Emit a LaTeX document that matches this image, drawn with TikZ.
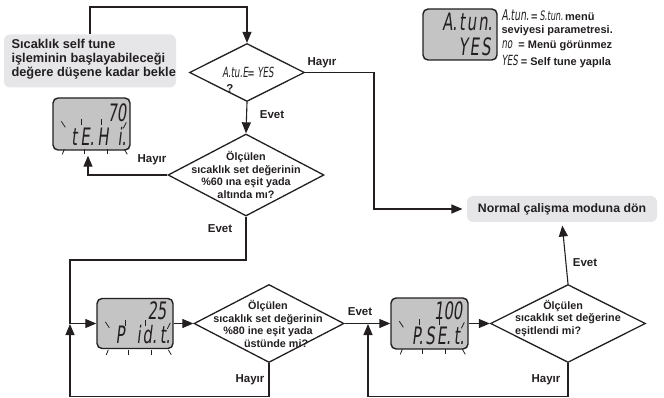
\documentclass[tikz,border=0pt]{standalone}
\usepackage{fontspec}
\setmainfont{Liberation Sans}
\newfontfamily\seg{DejaVu Sans}[FakeSlant=0.12,FakeStretch=0.62]
\usetikzlibrary{shapes.geometric,arrows.meta}
\definecolor{ink}{HTML}{231F20}
\definecolor{boxgray}{HTML}{E6E6E8}
\definecolor{lcdgray}{HTML}{C4C4C4}
\newcommand\lcdblink[1]{%
  \draw[blinkline] ([shift={(9,24)}]#1.north west) -- ++(4,6);
  \draw[blinkline] ([shift={(29,22)}]#1.north west) -- ++(0,6);
  \draw[blinkline] ([shift={(49,22)}]#1.north west) -- ++(0,6);
  \draw[blinkline] ([shift={(74,25)}]#1.north west) -- ++(-3,6);
  \draw[blinkline] ([shift={(12,52)}]#1.north west) -- ++(-2,5);
  \draw[blinkline] ([shift={(32,52)}]#1.north west) -- ++(0,5);
  \draw[blinkline] ([shift={(55,52)}]#1.north west) -- ++(0,5);
  \draw[blinkline] ([shift={(72,52)}]#1.north west) -- ++(3,5);
}
\newcommand\gap[1]{\hspace{#1pt}}
\begin{document}
\begin{tikzpicture}[x=1pt,y=-1pt,color=ink,line width=1.1pt,
  arr/.style={-{Triangle[length=11pt,width=9pt]}},
  decision/.style={draw,diamond,inner sep=0pt,line width=1.3pt},
  infobox/.style={fill=boxgray,rounded corners=6pt,inner sep=0pt},
  lcd/.style={draw,fill=lcdgray,rounded corners=5pt,line width=1.4pt,inner sep=0pt},
  blinkline/.style={line width=0.8pt},
  lbl/.style={font=\fontsize{11.5}{13}\selectfont\bfseries,inner sep=0pt},
  dtext/.style={font=\fontsize{10.8}{12.7}\selectfont\bfseries,align=center,inner sep=0pt},
  segbig/.style={font=\seg\fontsize{24}{24}\selectfont,inner sep=0pt},
  legend/.style={font=\fontsize{11}{12}\selectfont\bfseries,inner sep=0pt,anchor=west}]
\useasboundingbox (0,0) rectangle (664,398);

% info boxes
\node[infobox,minimum width=172pt,minimum height=53pt] (topbox) at (90,61) {};
\node[font=\fontsize{12.8}{14}\selectfont\bfseries,align=left,anchor=west,inner sep=0pt] (topt) at (11,59)
  {Sıcaklık self tune\\işleminin başlayabileceği\\değere düşene kadar bekle};
\node[infobox,minimum width=190pt,minimum height=26pt,font=\fontsize{12.3}{13}\selectfont\bfseries] (normal) at (562,209)
  {Normal çalişma moduna dön};

% decisions
\node[decision,minimum width=115pt,minimum height=58pt] (d1) at (247,72.5) {};
\node[inner sep=0pt] (d1t) at (248,72) {{\seg\fontsize{14}{14}\selectfont A.tu.E}{\bfseries\fontsize{11}{11}\selectfont=}\gap{3}{\seg\fontsize{14}{14}\selectfont YES}};
\node[lbl] (d1q) at (230,88) {?};
\node[decision,minimum width=156pt,minimum height=82pt] (d2) at (246,175) {};
\node[dtext] (d2t) at (246,175) {Ölçülen\\sıcaklık set değerinin\\\%60 ına eşit yada\\altında mı?};
\node[decision,minimum width=150pt,minimum height=78pt] (d3) at (269,323.5) {};
\node[dtext] (d3t) at (268,324) {Ölçülen\\sıcaklık set değerinin\\\%80 ine eşit yada\\\hspace*{1.5em}üstünde mi?};
\node[decision,minimum width=155pt,minimum height=78pt] (d4) at (568,323.5) {};
\node[dtext,align=left] (d4t) at (568,318.5) {\hspace*{2.6em}Ölçülen\\sıcaklık set değerine\\eşitlendi mi?};

% displays
\node[lcd,minimum width=77pt,minimum height=52pt] (lcd1) at (91.5,124) {};
\node[segbig,anchor=east] (l1a) at (127,113) {70};
\node[segbig,anchor=east] (l1b) at (127,136) {t\gap{3}E.\gap{3}H\gap{9}i.};
\lcdblink{lcd1}
\node[lcd,minimum width=76pt,minimum height=50pt] (lcd2) at (135,323.5) {};
\node[segbig,anchor=east] (l2a) at (167,311) {25};
\node[segbig,anchor=east] (l2b) at (171,335) {P\gap{12}i\gap{2}d.\gap{3}t.};
\lcdblink{lcd2}
\node[lcd,minimum width=77pt,minimum height=51pt] (lcd3) at (429.5,323.5) {};
\node[segbig,anchor=east] (l3a) at (463,311) {100};
\node[segbig,anchor=east] (l3b) at (465,336) {P.\gap{2}S\gap{2}E.\gap{3}t.};
\lcdblink{lcd3}
\node[lcd,minimum width=74pt,minimum height=51pt] (lcd0) at (460,34.5) {};
\node[segbig,anchor=east] (l0a) at (493,22) {A.\gap{2}t\gap{2}u\gap{2}n.};
\node[segbig,anchor=east] (l0b) at (491,47) {Y\gap{2}E\gap{2}S};

% legend
\node[legend] (leg1) at (501,15) {{\seg\mdseries\fontsize{15}{15}\selectfont A.tun.}\gap{2}=\gap{2}{\seg\mdseries\fontsize{13}{13}\selectfont S.tun.}\gap{2}menü};
\node[legend] (leg2) at (501,31) {seviyesi parametresi.};
\node[legend] (leg3) at (501,46) {{\seg\mdseries\fontsize{14}{14}\selectfont no}\gap{6}= Menü görünmez};
\node[legend] (leg4) at (501,61) {{\seg\mdseries\fontsize{14}{14}\selectfont YES}\gap{3}= Self tune yapıla};

% connectors
\draw[arr] (topbox.north) -- (90,7) -| (d1.north);
\draw[arr,shorten >=4pt] (d1.east) -- (374,72.5) |- (normal.west);
\node[lbl] at (322,63) {Hayır};
\draw[arr] (d1.south) -- (d2.north);
\node[lbl] at (272,115) {Evet};
\draw[arr] (d2.west) -| ([xshift=-3.5pt,yshift=-5pt]lcd1.south);
\node[lbl] at (152,160) {Hayır};
\coordinate (j1) at (70,323.5);
\draw (d2.south) -- (246,260) -| (j1);
\node[lbl] at (220,229) {Evet};
\draw[arr] (j1) -- (lcd2.west);
\draw[arr,shorten >=0.5pt] (d3.south) -- (269,396.5) -| (j1);
\node[lbl] at (250,380) {Hayır};
\draw[arr] (lcd2.east) -- (d3.west);
\coordinate (j2) at (368,323.5);
\draw[arr] (d3.east) -- (lcd3.west);
\node[lbl] at (360,312) {Evet};
\draw[arr,shorten >=0.5pt] (d4.south) -- (568,396.5) -| (j2);
\node[lbl] at (546,380) {Hayır};
\draw[arr] (lcd3.east) -- (d4.west);
\draw[arr,shorten >=3pt] (d4.north) -- (normal.south);
\node[lbl] at (585,263) {Evet};
\end{tikzpicture}
\end{document}
